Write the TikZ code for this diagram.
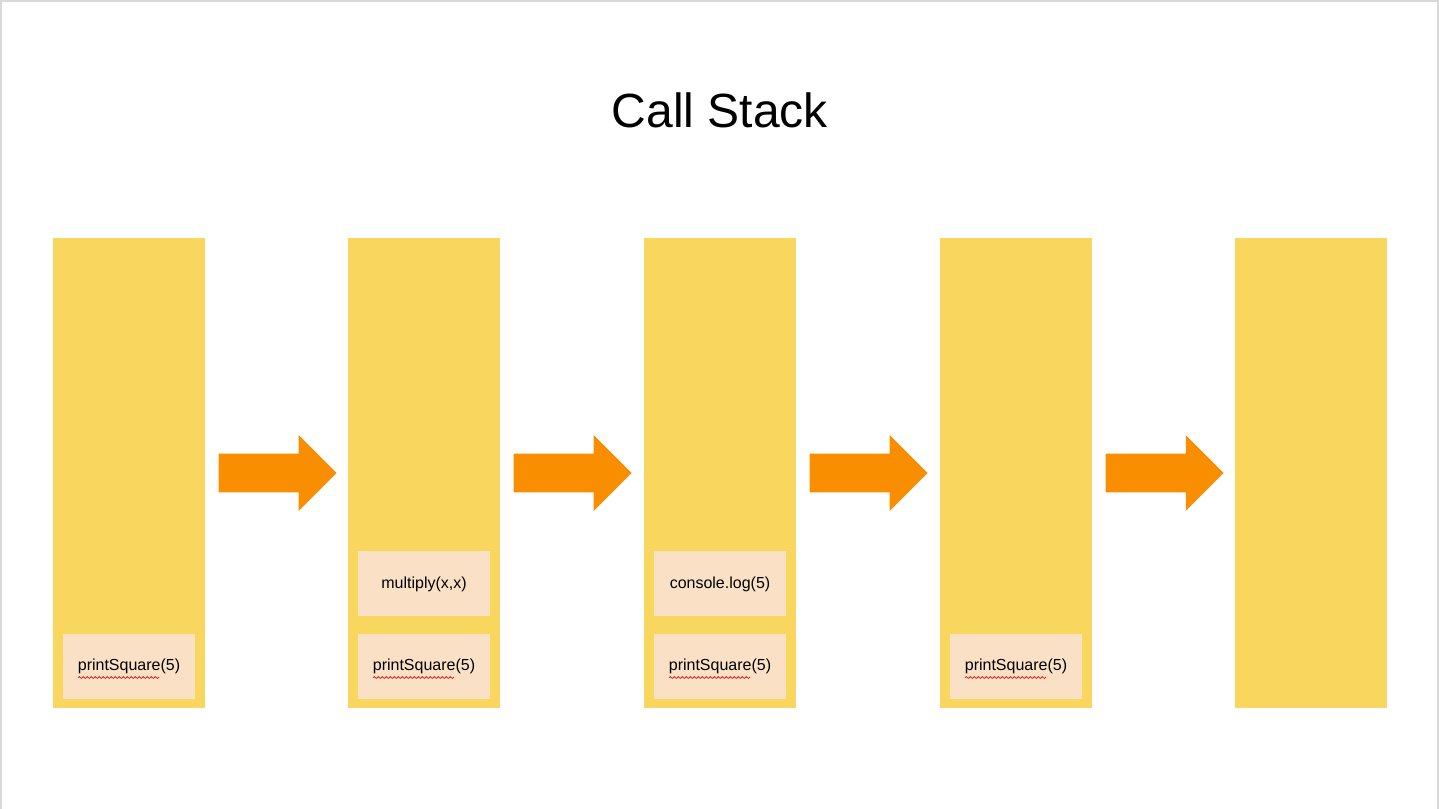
\documentclass[tikz,border=0pt]{standalone}
\usepackage{fontspec}
\setmainfont{Liberation Sans}
\usetikzlibrary{positioning,shapes.arrows,decorations.pathmorphing}

\definecolor{stk} {RGB}{249,214,94}
\definecolor{frm} {RGB}{250,225,197}
\definecolor{arw} {RGB}{249,143,0}

\begin{document}
\begin{tikzpicture}[x=0.75pt,y=-0.75pt,
    stackcol/.style={fill=stk,minimum width=114pt,minimum height=352.5pt,inner sep=0},
    stackframe/.style={fill=frm,minimum width=99pt,minimum height=48.75pt,inner sep=0,font=\fontsize{12}{14}\selectfont},
    callarrow/.style={single arrow,fill=arw,minimum height=88.5pt,minimum width=56.25pt,single arrow head extend=13.9pt,
                      inner sep=0,text height=14.25pt,text depth=14.25pt},
    wavy/.style={draw=red!85!black,line width=0.5pt,decorate,decoration={snake,amplitude=0.7pt,segment length=3pt}}]

    \useasboundingbox (0,0) rectangle (1439,809);
    \draw[gray!30,line width=1pt] (1,809) -- (1,1) -- (1438,1) -- (1438,809);

    \node (title) at (720,110) {\fontsize{36}{43}\selectfont Call Stack};

    % the five stacks
    \node[stackcol] (s1) at (129,473) {};
    \node[stackcol] (s2) at (424,473) {};
    \node[stackcol] (s3) at (720,473) {};
    \node[stackcol] (s4) at (1016,473) {};
    \node[stackcol] (s5) at (1311,473) {};

    % frames on the stacks
    \node[stackframe,above=7.1pt of s1.south] (f1) {printSquare(5)};
    \node[stackframe,above=7.1pt of s2.south] (f2) {printSquare(5)};
    \node[stackframe,above=12.4pt of f2] (g2) {multiply(x,x)};
    \node[stackframe,above=7.1pt of s3.south] (f3) {printSquare(5)};
    \node[stackframe,above=12.4pt of f3] (g3) {console.log(5)};
    \node[stackframe,above=7.1pt of s4.south] (f4) {printSquare(5)};

    % spell check marks
    \draw[wavy] ([shift={(-51,11.5)}]f1.center) -- ++(81,0);
    \draw[wavy] ([shift={(-51,11.5)}]f2.center) -- ++(81,0);
    \draw[wavy] ([shift={(-51,11.5)}]f3.center) -- ++(81,0);
    \draw[wavy] ([shift={(-51,11.5)}]f4.center) -- ++(81,0);

    % arrows between the stacks
    \node[callarrow,right=9.75pt of s1] (a1) {};
    \node[callarrow,right=9.75pt of s2] (a2) {};
    \node[callarrow,right=9.75pt of s3] (a3) {};
    \node[callarrow,right=9.75pt of s4] (a4) {};

\end{tikzpicture}
\end{document}
